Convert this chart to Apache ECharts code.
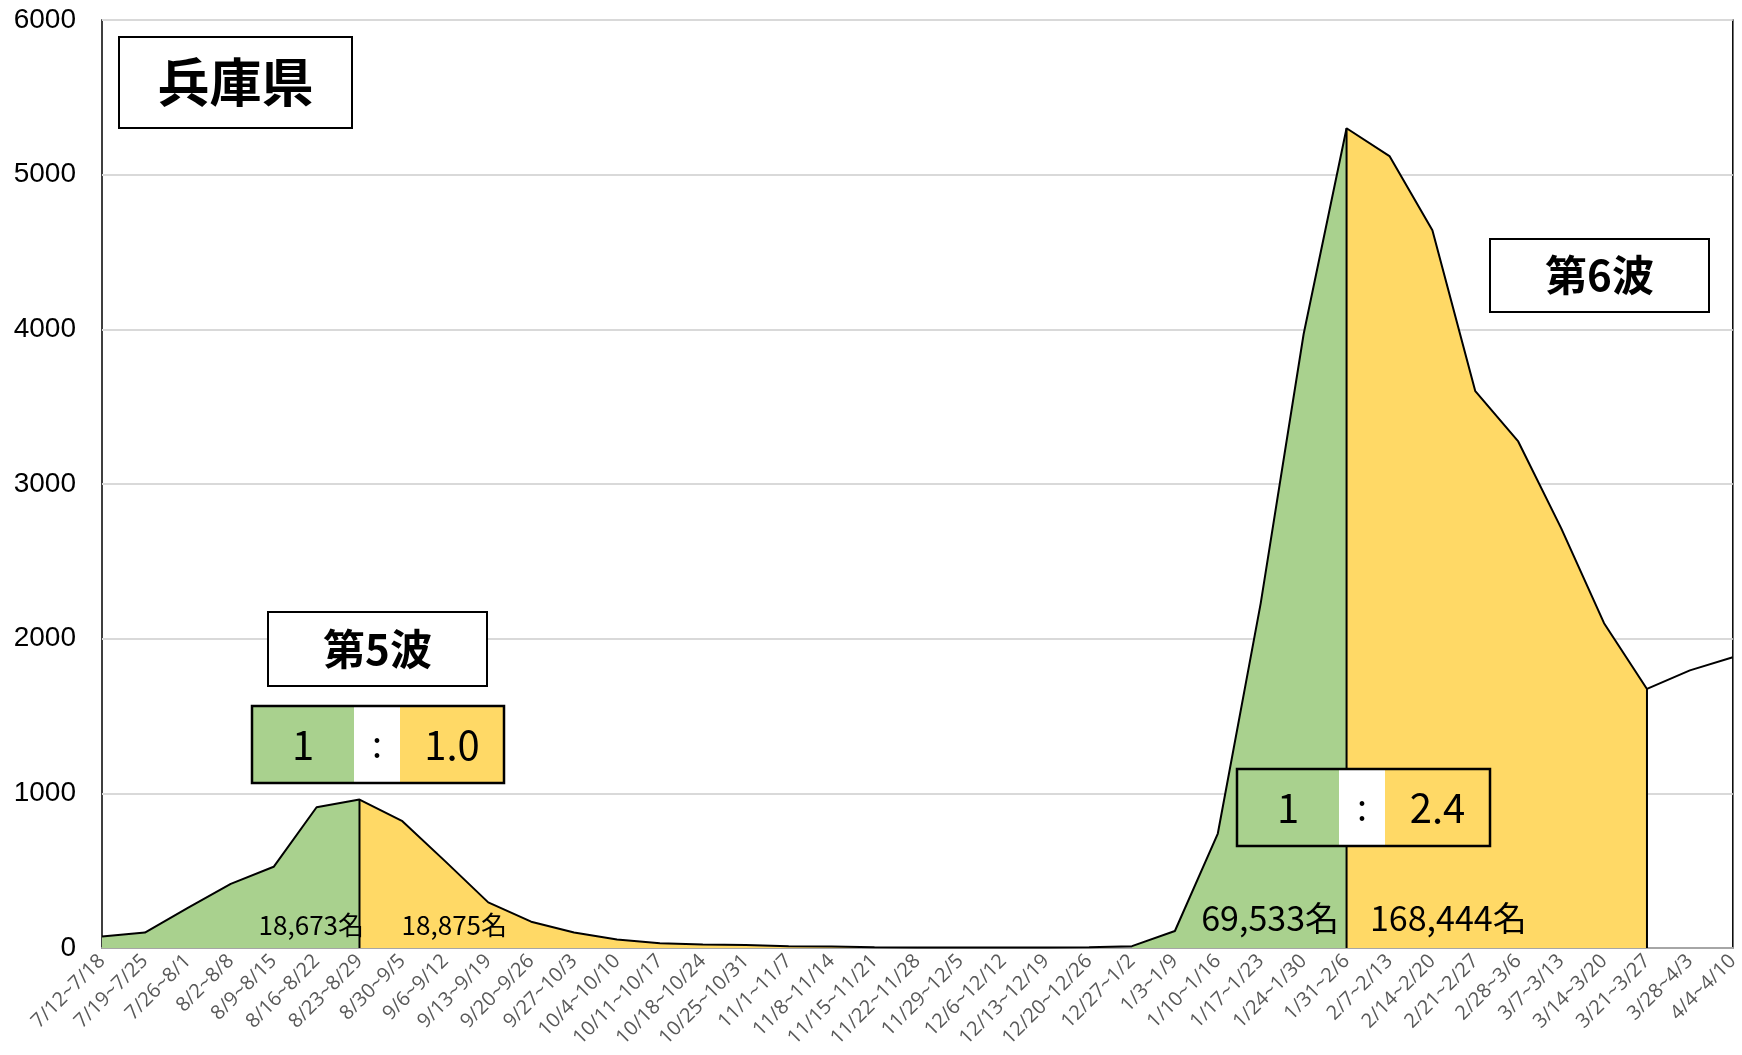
<!DOCTYPE html>
<html><head><meta charset="utf-8">
<script src="https://cdn.jsdelivr.net/npm/echarts@6/dist/echarts.min.js"></script>
<style>html,body{margin:0;padding:0;background:#fff}#c{width:1742px;height:1055px}</style>
</head><body><div id="c"></div>
<script>
const categories = ['7/12~7/18','7/19~7/25','7/26~8/1','8/2~8/8','8/9~8/15','8/16~8/22','8/23~8/29','8/30~9/5','9/6~9/12','9/13~9/19','9/20~9/26','9/27~10/3','10/4~10/10','10/11~10/17','10/18~10/24','10/25~10/31','11/1~11/7','11/8~11/14','11/15~11/21','11/22~11/28','11/29~12/5','12/6~12/12','12/13~12/19','12/20~12/26','12/27~1/2','1/3~1/9','1/10~1/16','1/17~1/23','1/24~1/30','1/31~2/6','2/7~2/13','2/14~2/20','2/21~2/27','2/28~3/6','3/7~3/13','3/14~3/20','3/21~3/27','3/28~4/3','4/4~4/10'];
const cases = [75,100,260,415,525,910,960,820,560,295,170,100,55,30,22,20,12,10,5,4,3,3,3,5,12,110,740,2230,3970,5300,5120,4640,3600,3275,2715,2100,1675,1795,1880];
// segments: [startIndex, endIndex]
const wave5Before = [0, 6];
const wave5After = [6, 24];
const wave6Before = [24, 29];
const wave6After = [29, 36];
const dividers = [6, 29, 36];
const yTicks = [0,1000,2000,3000,4000,5000,6000];

const GREEN = '#A9D18E', YELLOW = '#FFD966';
function seg(range){ return cases.map((v,i)=> (i>=range[0] && i<=range[1]) ? v : null); }
function fill(range, color){
  return {type:'line', data:seg(range), symbol:'none', silent:true,
    lineStyle:{width:0}, areaStyle:{color:color, opacity:1}, z:1};
}
const series = [
  fill(wave5Before, GREEN), fill(wave5After, YELLOW),
  fill(wave6Before, GREEN), fill(wave6After, YELLOW),
  {type:'line', data:cases, symbol:'none', lineStyle:{color:'#000', width:2}, z:5}
];
dividers.forEach(i=>{
  series.push({type:'line', data:[[categories[i],0],[categories[i],cases[i]]], symbol:'none',
    lineStyle:{color:'#000', width:2}, z:5});
});

const chart = echarts.init(document.getElementById('c'));
const F = '"Noto Sans CJK JP", sans-serif';
function box(x,y,w,h,text,size){
  return {type:'group', children:[
    {type:'rect', shape:{x:x,y:y,width:w,height:h}, style:{fill:'#fff', stroke:'#000', lineWidth:2}, z:10},
    {type:'text', x:x+w/2, y:y+h/2, style:{text:text, font:'bold '+size+'px '+F, fill:'#000', align:'center', verticalAlign:'middle'}, z:11}
  ]};
}
function ratio(x,y,h,wg,ww,wy,a,b){
  const F2 = size => size+'px '+F;
  return {type:'group', children:[
    {type:'rect', shape:{x:x,y:y,width:wg,height:h}, style:{fill:GREEN}, z:10},
    {type:'rect', shape:{x:x+wg,y:y,width:ww,height:h}, style:{fill:'#fff'}, z:10},
    {type:'rect', shape:{x:x+wg+ww,y:y,width:wy,height:h}, style:{fill:YELLOW}, z:10},
    {type:'rect', shape:{x:x,y:y,width:wg+ww+wy,height:h}, style:{fill:'none', stroke:'#000', lineWidth:2.5}, z:11},
    {type:'text', x:x+wg/2, y:y+h/2, style:{text:a, font:F2(40), fill:'#000', align:'center', verticalAlign:'middle'}, z:12},
    {type:'text', x:x+wg+ww/2, y:y+h/2, style:{text:':', font:F2(36), fill:'#000', align:'center', verticalAlign:'middle'}, z:12},
    {type:'text', x:x+wg+ww+wy/2, y:y+h/2, style:{text:b, font:F2(40), fill:'#000', align:'center', verticalAlign:'middle'}, z:12}
  ]};
}
function lbl(x,y,text,size){
  return {type:'text', x:x, y:y, style:{text:text, font:size+'px '+F, fill:'#000', align:'right', verticalAlign:'middle'}, z:12};
}
function lblL(x,y,text,size){
  return {type:'text', x:x, y:y, style:{text:text, font:size+'px '+F, fill:'#000', align:'left', verticalAlign:'middle'}, z:12};
}

chart.setOption({
  animation:false,
  grid:{left:102, right:5, top:20, bottom:107, show:true, borderColor:'#000', borderWidth:1.5, backgroundColor:'#fff'},
  xAxis:{type:'category', data:categories, boundaryGap:false,
    axisLine:{show:true, lineStyle:{color:'#a6a6a6', width:2}}, axisTick:{show:false},
    axisLabel:{interval:0, rotate:45, fontSize:20, color:'#595959', fontFamily:'"Open Sans", "Noto Sans", sans-serif', margin:10}},
  yAxis:{type:'value', min:0, max:6000, interval:1000,
    axisLine:{show:false}, axisTick:{show:false},
    splitLine:{lineStyle:{color:'#d9d9d9', width:2}},
    axisLabel:{fontSize:28, color:'#000', fontFamily:'"Liberation Sans", Arial, sans-serif', margin:26,
      formatter:v=> yTicks.includes(v) ? String(v) : ''}},
  series:series,
  graphic:[
    box(119,37,233,91,'兵庫県',52),
    box(268,612,219,74,'第5波',42),
    ratio(252,706,77,102,46,104,'1','1.0'),
    box(1490,239,219,73,'第6波',42),
    ratio(1237,769,77,102,46,105,'1','2.4'),
    lbl(364,925,'18,673名',26),
    lbl(507,925,'18,875名',26),
    lbl(1339,918,'69,533名',34),
    lblL(1370,918,'168,444名',34)
  ]
});
</script></body></html>
